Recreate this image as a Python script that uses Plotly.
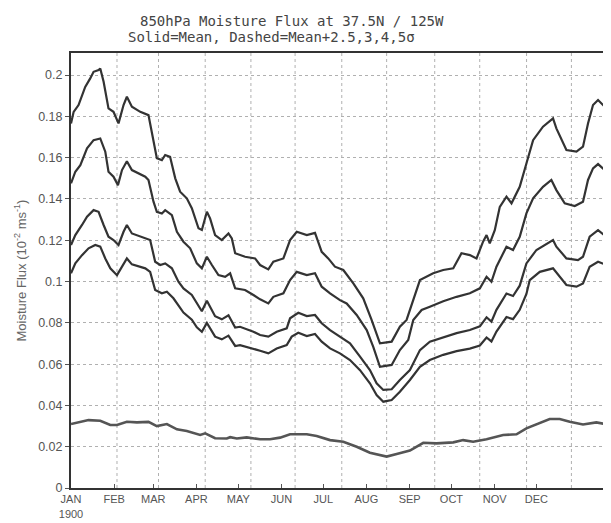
import plotly.graph_objects as go

# ---------------- data (day of year from 1 Jan 1900) ----------------
month_days = [0, 31, 59, 90, 120, 151, 181, 212, 243, 273, 304, 334]
month_labels = ["JAN<br>1900", "FEB", "MAR", "APR", "MAY", "JUN", "JUL",
                "AUG", "SEP", "OCT", "NOV", "DEC"]
grid_days = [33.0, 62.8, 96.3, 129.1, 160.8, 194.3, 226.5, 261.0, 293.3, 326.9, 359.1]
y_ticks = [0, 0.02, 0.04, 0.06, 0.08, 0.1, 0.12, 0.14, 0.16, 0.18, 0.2]
y_ticklabels = ["0", "0.02", "0.04", "0.06", "0.08", "0.1", "0.12", "0.14", "0.16", "0.18", "0.2"]

mean_days = [0, 12.6, 21.0, 28.2, 33.0, 40.1, 47.3, 55.6, 61.6, 68.8, 76.0, 83.1, 92.7, 96.3,
             103.4, 111.8, 114.2, 119.0, 126.1, 135.7, 142.8, 150.0, 157.2, 169.2, 176.3, 185.9,
             195.4, 205.0, 214.5, 226.5, 233.7, 243.2, 252.8, 262.3, 274.3, 281.4, 288.6, 298.2,
             310.1, 319.7, 326.8, 336.4, 343.5, 350.7, 357.9, 367.4, 377.0, 387.5]
mean_vals = [0.0310, 0.0329, 0.0326, 0.0305, 0.0305, 0.0321, 0.0318, 0.0320, 0.0300, 0.0310,
             0.0284, 0.0276, 0.0257, 0.0265, 0.0241, 0.0240, 0.0246, 0.0240, 0.0245, 0.0236,
             0.0236, 0.0244, 0.0260, 0.0260, 0.0252, 0.0232, 0.0224, 0.0200, 0.0171, 0.0152,
             0.0165, 0.0181, 0.0219, 0.0216, 0.0221, 0.0232, 0.0224, 0.0236, 0.0257, 0.0260,
             0.0289, 0.0313, 0.0334, 0.0334, 0.0321, 0.0308, 0.0318, 0.0305]

s5_days = [0, 1.9, 5.4, 10.2, 13.8, 16.2, 19.8, 21.0, 23.4, 26.9,
           30.5, 34.1, 37.7, 40.1, 43.7, 49.7, 55.6, 58.1, 61.6, 65.2,
           67.6, 71.1, 74.8, 78.3, 83.1, 86.7, 91.5, 93.9, 97.5, 99.8,
           103.4, 108.2, 113.0, 115.4, 117.8, 124.9, 132.1, 135.7, 141.6, 145.2,
           152.4, 157.2, 162.0, 169.2, 175.1, 179.9, 184.6, 189.4, 195.4, 202.6,
           209.7, 215.7, 221.7, 230.1, 236.0, 240.8, 245.6, 250.4, 259.9, 267.1,
           274.3, 280.2, 286.2, 291.0, 295.7, 298.2, 300.5, 304.1, 307.7, 312.5,
           316.1, 322.0, 326.8, 331.6, 338.7, 345.9, 348.3, 355.5, 362.7, 367.4,
           371.0, 374.6, 378.2, 383.0, 387.5]
s5_vals = [0.1766, 0.1822, 0.1855, 0.1943, 0.1984, 0.2016, 0.2024, 0.2032, 0.1968, 0.1839,
           0.1822, 0.1766, 0.1855, 0.1895, 0.1847, 0.1822, 0.1806, 0.1725, 0.1597, 0.1588,
           0.1613, 0.1604, 0.1500, 0.1435, 0.1403, 0.1355, 0.1258, 0.1250, 0.1338, 0.1306,
           0.1225, 0.1201, 0.1233, 0.1209, 0.1137, 0.1120, 0.1112, 0.1080, 0.1059, 0.1096,
           0.1112, 0.1201, 0.1241, 0.1225, 0.1236, 0.1144, 0.1112, 0.1072, 0.1056, 0.0991,
           0.0919, 0.0814, 0.0701, 0.0709, 0.0781, 0.0814, 0.0910, 0.1007, 0.1040, 0.1056,
           0.1064, 0.1137, 0.1128, 0.1112, 0.1193, 0.1225, 0.1185, 0.1249, 0.1362, 0.1411,
           0.1379, 0.1459, 0.1572, 0.1685, 0.1750, 0.1790, 0.1742, 0.1637, 0.1629, 0.1653,
           0.1766, 0.1855, 0.1879, 0.1847, 0.1830]

s4_days = [0, 3.1, 6.7, 11.5, 16.2, 21.0, 24.6, 26.9, 30.5, 33.7,
           36.6, 40.1, 43.7, 53.3, 55.6, 59.2, 61.6, 65.2, 67.6, 72.4,
           76.0, 80.7, 85.5, 90.3, 93.9, 97.5, 101.1, 105.8, 110.6, 114.2,
           117.8, 124.9, 130.9, 135.7, 141.6, 145.2, 152.4, 157.2, 162.0, 169.2,
           175.1, 179.9, 185.9, 193.0, 197.8, 205.0, 212.2, 216.9, 221.7, 230.1,
           236.0, 242.0, 245.6, 251.6, 257.5, 267.1, 276.7, 286.2, 293.4, 298.2,
           301.7, 305.3, 312.5, 317.2, 322.0, 326.8, 331.6, 338.7, 344.7, 348.3,
           354.3, 361.5, 367.4, 371.0, 374.6, 378.2, 383.0, 387.5]
s4_vals = [0.1476, 0.1532, 0.1564, 0.1645, 0.1685, 0.1693, 0.1629, 0.1532, 0.1508, 0.1467,
           0.1540, 0.1583, 0.1540, 0.1508, 0.1492, 0.1387, 0.1338, 0.1330, 0.1346, 0.1322,
           0.1241, 0.1193, 0.1161, 0.1088, 0.1064, 0.1120, 0.1080, 0.1031, 0.1023, 0.1040,
           0.0967, 0.0959, 0.0935, 0.0914, 0.0894, 0.0926, 0.0943, 0.1007, 0.1047, 0.1031,
           0.1040, 0.0975, 0.0943, 0.0910, 0.0894, 0.0838, 0.0765, 0.0684, 0.0587, 0.0596,
           0.0668, 0.0717, 0.0814, 0.0862, 0.0878, 0.0905, 0.0926, 0.0943, 0.0967, 0.1023,
           0.0999, 0.1072, 0.1169, 0.1153, 0.1217, 0.1330, 0.1403, 0.1459, 0.1492, 0.1443,
           0.1379, 0.1366, 0.1387, 0.1492, 0.1548, 0.1569, 0.1540, 0.1532]

s3_days = [0, 3.1, 7.9, 11.5, 16.2, 19.8, 23.4, 26.9, 30.5, 34.1,
           37.7, 40.1, 43.7, 53.3, 56.8, 60.4, 64.0, 67.6, 72.4, 77.1,
           80.7, 86.7, 91.5, 93.9, 97.5, 103.4, 108.2, 113.0, 117.8, 121.3,
           130.9, 135.7, 141.6, 147.6, 154.8, 157.2, 163.1, 169.2, 175.1, 179.9,
           185.9, 193.0, 200.2, 207.4, 214.5, 219.3, 224.1, 230.1, 236.0, 243.2,
           250.4, 257.5, 267.1, 276.7, 286.2, 293.4, 298.2, 301.7, 305.3, 312.5,
           317.2, 322.0, 326.8, 334.0, 345.9, 348.3, 355.5, 363.8, 367.4, 372.2,
           378.2, 384.2, 387.5]
s3_vals = [0.1177, 0.1225, 0.1274, 0.1314, 0.1346, 0.1338, 0.1274, 0.1217, 0.1201, 0.1177,
           0.1241, 0.1274, 0.1233, 0.1209, 0.1201, 0.1096, 0.1080, 0.1088, 0.1064, 0.0999,
           0.0967, 0.0935, 0.0886, 0.0856, 0.0907, 0.0832, 0.0817, 0.0837, 0.0777, 0.0781,
           0.0757, 0.0741, 0.0733, 0.0757, 0.0773, 0.0822, 0.0849, 0.0833, 0.0838, 0.0798,
           0.0765, 0.0733, 0.0701, 0.0636, 0.0571, 0.0507, 0.0475, 0.0478, 0.0523, 0.0571,
           0.0668, 0.0709, 0.0730, 0.0750, 0.0765, 0.0783, 0.0827, 0.0806, 0.0863, 0.0942,
           0.0930, 0.0980, 0.1088, 0.1153, 0.1201, 0.1169, 0.1112, 0.1104, 0.1120, 0.1217,
           0.1249, 0.1217, 0.1214]

s25_days = [0, 3.1, 7.9, 12.6, 17.4, 21.0, 24.6, 28.2, 33.0, 37.7,
            40.1, 43.7, 53.3, 56.8, 60.4, 65.2, 68.8, 73.5, 77.1, 80.7,
            86.7, 90.3, 93.9, 97.5, 103.4, 108.2, 113.0, 117.8, 121.3, 130.9,
            135.7, 141.6, 147.6, 154.8, 158.4, 163.1, 169.2, 175.1, 179.9, 185.9,
            193.0, 200.2, 207.4, 214.5, 219.3, 224.1, 230.1, 236.0, 243.2, 250.4,
            257.5, 267.1, 276.7, 286.2, 293.4, 298.2, 301.7, 305.3, 312.5, 317.2,
            322.0, 326.8, 329.2, 336.4, 341.2, 345.9, 355.5, 362.7, 367.4, 372.2,
            378.2, 387.5]
s25_vals = [0.1040, 0.1088, 0.1128, 0.1161, 0.1177, 0.1169, 0.1112, 0.1064, 0.1031, 0.1088,
            0.1112, 0.1083, 0.1064, 0.1047, 0.0959, 0.0943, 0.0951, 0.0919, 0.0886, 0.0850,
            0.0815, 0.0778, 0.0757, 0.0800, 0.0733, 0.0720, 0.0738, 0.0688, 0.0692, 0.0676,
            0.0665, 0.0652, 0.0676, 0.0692, 0.0733, 0.0752, 0.0736, 0.0746, 0.0709, 0.0676,
            0.0652, 0.0620, 0.0571, 0.0507, 0.0450, 0.0418, 0.0426, 0.0466, 0.0523, 0.0587,
            0.0620, 0.0645, 0.0663, 0.0675, 0.0690, 0.0729, 0.0710, 0.0758, 0.0828, 0.0818,
            0.0863, 0.0940, 0.1007, 0.1047, 0.1056, 0.1064, 0.0983, 0.0975, 0.0991, 0.1072,
            0.1096, 0.1072]

# ---------------- figure ----------------
fig = go.Figure()

dark = "#333333"
for d, v in [(s5_days, s5_vals), (s4_days, s4_vals), (s3_days, s3_vals), (s25_days, s25_vals)]:
    fig.add_trace(go.Scatter(x=d, y=v, mode="lines",
                             line=dict(color=dark, width=2.2), showlegend=False,
                             hoverinfo="skip"))
fig.add_trace(go.Scatter(x=mean_days, y=mean_vals, mode="lines",
                         line=dict(color="#555555", width=2.6), showlegend=False,
                         hoverinfo="skip"))

for g in grid_days:
    fig.add_shape(type="line", xref="x", yref="paper", x0=g, x1=g, y0=0, y1=1,
                  line=dict(color="#b0b0b0", width=1, dash="dot"), layer="below")

font_ticks = dict(family="Liberation Sans, Arial, sans-serif", size=11, color="#555555")

# page has an 8px body margin, so the figure is sized to fit the window
PW, PH = 540, 435  # plot area size in px
fig.update_layout(
    width=603, height=515,
    margin=dict(l=63, r=0, t=45, b=35),
    paper_bgcolor="white", plot_bgcolor="white",
    xaxis=dict(range=[0, 387.5], tickmode="array", tickvals=month_days, ticktext=month_labels,
               ticks="inside", ticklen=4, tickcolor="#555", tickfont=font_ticks,
               showgrid=False, zeroline=False, showline=True, linecolor="#333",
               linewidth=2, mirror=True),
    yaxis=dict(range=[0, 0.2107], tickmode="array", tickvals=y_ticks, ticktext=y_ticklabels,
               ticks="outside", ticklen=4, tickcolor="#555",
               tickfont=dict(family="Liberation Sans, Arial, sans-serif", size=12.5, color="#555555"),
               showgrid=True, gridcolor="#b0b0b0", griddash="dot", gridwidth=1,
               zeroline=False, showline=True, linecolor="#333", linewidth=2),
    annotations=[
        dict(text="850hPa Moisture Flux at 37.5N / 125W", xref="paper", yref="paper",
             x=(292 - 71) / PW, y=(488 - 20.5) / PH, xanchor="center", yanchor="middle",
             showarrow=False, font=dict(family="DejaVu Sans Mono", size=14, color="#444444")),
        dict(text="Solid=Mean, Dashed=Mean+2.5,3,4,5σ", xref="paper", yref="paper",
             x=(271 - 71) / PW, y=(488 - 37) / PH, xanchor="center", yanchor="middle",
             showarrow=False, font=dict(family="DejaVu Sans Mono", size=14, color="#444444")),
        dict(text="Moisture Flux (10<sup>-2</sup> ms<sup>-1</sup>)", xref="paper", yref="paper",
             x=(20 - 71) / PW, y=0.5, xanchor="center", yanchor="middle", textangle=-90,
             showarrow=False, font=dict(family="Liberation Sans, Arial, sans-serif", size=13,
                                        color="#666666")),
    ],
)

fig.write_html("out.html")
